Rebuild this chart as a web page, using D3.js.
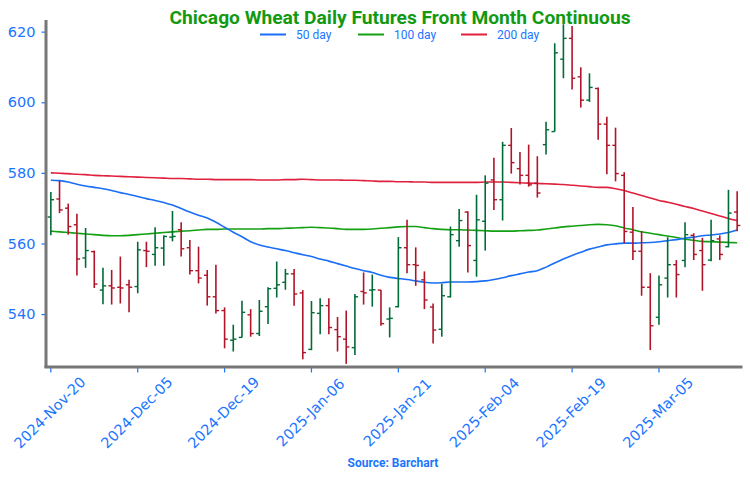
<!DOCTYPE html>
<html><head><meta charset="utf-8">
<script src="https://cdn.jsdelivr.net/npm/d3@7"></script>
<style>
body{margin:0;background:#fff;}
svg{display:block;}
</style></head>
<body>
<svg id="chart" width="750" height="479"></svg>
<script>
// ---- data (index = trading day, 0 = 2024-Nov-20) ----
const tickIndex = [0,10,20,30,40,50,60,70];
const tickLabels = ["2024-Nov-20","2024-Dec-05","2024-Dec-19","2025-Jan-06","2025-Jan-21","2025-Feb-04","2025-Feb-19","2025-Mar-05"];
const yTicks = [540,560,580,600,620];

const opens  = [567.5,572.6,570.0,565.3,555.9,557.7,546.8,548.0,547.6,548.3,
                547.8,558.0,556.9,558.7,561.8,563.9,558.8,552.3,551.0,544.9,
                541.0,532.6,533.4,539.8,534.5,542.1,547.3,549.0,551.4,546.0,
                530.0,540.2,542.4,535.6,532.9,530.5,546.4,546.8,546.8,538.6,
                542.1,558.8,554.0,549.7,542.0,535.7,544.9,560.8,568.9,555.2,
                566.3,578.0,572.4,587.8,581.2,579.3,577.1,588.0,591.7,612.2,
                618.1,607.2,600.6,603.9,593.8,587.8,579.3,563.2,557.8,547.6,
                539.1,550.2,554.0,555.2,562.3,558.0,555.3,561.3,559.1,568.9];
const highs  = [574.6,577.7,571.3,568.4,564.4,558.0,553.1,552.5,556.3,549.7,
                560.5,560.5,564.6,562.3,569.2,566.0,561.0,559.1,552.5,554.0,
                541.9,537.0,543.8,541.4,544.0,547.6,554.9,552.8,552.8,546.8,
                543.7,544.5,544.5,539.2,541.0,545.7,551.8,551.2,546.8,541.9,
                561.8,566.7,558.9,552.1,543.0,548.6,564.8,569.8,569.1,573.8,
                579.3,584.3,588.8,592.7,585.9,588.0,584.7,594.5,616.7,622.1,
                621.6,609.9,608.2,604.2,595.9,592.8,580.2,570.3,563.5,551.6,
                550.9,561.8,555.3,566.0,562.9,561.6,566.7,562.3,575.2,574.8];
const lows   = [562.3,568.6,562.5,550.9,553.1,547.4,542.8,542.7,543.0,540.5,
                545.9,553.3,553.7,553.7,560.6,556.3,551.2,548.7,542.4,540.2,
                530.3,529.4,533.4,533.6,533.8,537.2,544.7,546.9,542.4,527.2,
                529.8,534.3,534.3,529.4,525.9,528.4,542.7,542.1,536.7,533.4,
                541.9,551.6,548.0,541.4,531.7,533.6,544.7,559.1,551.8,550.6,
                558.0,569.5,566.5,579.8,576.7,576.1,573.0,585.2,591.7,606.8,
                603.6,598.5,600.1,589.4,579.6,577.6,560.1,555.3,545.2,529.8,
                537.0,544.7,544.7,553.3,555.3,546.6,555.0,555.3,558.9,563.5];
const closes = [572.4,569.5,564.8,555.6,558.0,548.5,548.0,547.4,547.4,547.6,
                558.2,557.8,558.8,562.0,562.0,558.5,552.3,550.2,544.9,541.0,
                532.9,532.9,540.5,534.5,540.8,547.2,548.3,551.4,545.7,529.1,
                540.4,542.4,536.2,533.6,530.7,544.9,546.0,546.9,537.3,538.8,
                558.8,554.0,553.8,544.0,535.5,545.2,562.5,566.5,559.4,566.7,
                577.1,572.4,587.8,582.9,579.3,576.6,574.3,592.2,614.0,618.1,
                606.8,600.6,604.2,593.8,587.8,579.8,563.4,557.8,547.6,536.7,
                548.3,554.0,551.2,562.5,556.9,554.0,560.8,556.9,568.6,565.1];

const ma50  = [577.9,577.8,577.4,576.8,576.3,575.9,575.5,575.0,574.4,573.9,
               573.3,572.7,572.2,571.6,570.9,569.9,568.9,568.0,567.2,566.0,
               564.6,563.2,561.9,560.5,559.6,559.0,558.5,558.0,557.4,556.8,
               556.3,555.6,555.0,554.3,553.6,552.9,552.3,551.8,551.0,550.4,
               550.1,549.8,549.4,549.0,548.8,548.9,549.1,549.1,549.1,549.2,
               549.4,549.8,550.3,550.9,551.4,551.9,552.3,553.3,554.5,555.6,
               556.6,557.5,558.4,559.0,559.6,559.9,560.1,560.1,560.2,560.3,
               560.5,560.8,561.1,561.5,561.8,562.2,562.4,562.7,563.1,563.8];
const ma100 = [563.5,563.3,563.1,562.9,562.7,562.5,562.3,562.2,562.2,562.3,
               562.5,562.7,562.9,563.1,563.3,563.5,563.6,563.8,564.0,564.0,
               564.1,564.1,564.1,564.1,564.1,564.2,564.2,564.3,564.4,564.5,
               564.6,564.5,564.4,564.2,564.0,564.0,564.0,564.1,564.3,564.5,
               564.7,564.8,564.8,564.5,564.2,564.0,563.9,563.9,563.8,563.7,
               563.6,563.5,563.5,563.5,563.6,563.7,563.8,564.1,564.4,564.7,
               564.9,565.1,565.3,565.4,565.3,565.0,564.4,563.9,563.3,562.9,
               562.5,562.1,561.7,561.2,560.9,560.6,560.5,560.4,560.3,560.2];
const ma200 = [580.0,579.9,579.8,579.6,579.5,579.3,579.2,579.1,579.0,578.9,
               578.8,578.7,578.6,578.5,578.4,578.4,578.3,578.2,578.2,578.1,
               578.1,578.1,578.1,578.1,578.0,578.0,578.0,578.1,578.1,578.2,
               578.1,578.0,578.0,578.0,577.9,577.9,577.8,577.7,577.6,577.6,
               577.5,577.5,577.4,577.4,577.3,577.3,577.3,577.3,577.3,577.3,
               577.4,577.4,577.4,577.3,577.2,577.1,577.0,576.9,576.8,576.7,
               576.5,576.3,576.1,575.9,575.9,575.5,575.0,574.3,573.6,572.9,
               572.2,571.7,571.1,570.5,569.9,569.2,568.5,567.8,567.1,566.5];

const maNames = ["50 day","100 day","200 day"];
const maColors = ["#1a6ef5","#13a013","#e0203c"];

// ---- drawing ----
const svg = d3.select("#chart");
const W = 750, H = 479;
const m = {left:46.5, right:8.5, top:20, bottom:113};

const n = opens.length;
const bars = d3.range(n).map(i => ({i, o:opens[i], h:highs[i], l:lows[i], c:closes[i]}));

const x = d3.scaleBand().domain(d3.range(n)).range([m.left, W - m.right]).padding(0);
const y = d3.scaleLinear().domain([525.3, 623.3]).range([H - m.bottom, m.top]);
const cx = i => x(i) + x.bandwidth()/2;

const blue = "#1a75ff";

// y axis
const yAxis = d3.axisLeft(y).tickValues(yTicks).tickSize(5).tickPadding(6).tickSizeOuter(0);
const gy = svg.append("g").attr("transform",`translate(${m.left},0)`).call(yAxis);
gy.select(".domain").remove();
gy.selectAll(".tick line").attr("stroke", blue).attr("stroke-width",1.2);
gy.selectAll(".tick text").attr("fill", blue).style("font-family","'DejaVu Sans', Verdana, sans-serif").style("font-size","14.5px");

// x axis
const xAxis = d3.axisBottom(x).tickValues(tickIndex).tickFormat(d=>tickLabels[tickIndex.indexOf(d)]).tickSize(5).tickSizeOuter(0);
const gx = svg.append("g").attr("transform",`translate(0,${H - m.bottom + 1.5})`).call(xAxis);
gx.select(".domain").remove();
gx.selectAll(".tick line").attr("stroke", blue).attr("stroke-width",1.2);
gx.selectAll(".tick text").attr("fill", blue)
  .style("font-family","'DejaVu Sans', Verdana, sans-serif").style("font-size","14.5px")
  .attr("text-anchor","middle").attr("dy","0.35em").attr("y",0)
  .attr("transform","translate(-1,45) rotate(-45)");

// axis frame lines
svg.append("line").attr("x1",m.left-0.5).attr("x2",m.left-0.5).attr("y1",m.top).attr("y2",H - m.bottom + 2)
  .attr("stroke","#777").attr("stroke-width",3);
svg.append("line").attr("x1",m.left-2).attr("x2",W - m.right+1).attr("y1",H - m.bottom + 1).attr("y2",H - m.bottom + 1)
  .attr("stroke","#777").attr("stroke-width",3);

// moving averages
const line = d3.line().x((d,i)=>cx(i)).y(d=>y(d)).curve(d3.curveMonotoneX);
[ma200, ma100, ma50].forEach((arr,k)=>{
  const col = maColors[2-k];
  svg.append("path").datum(arr).attr("d", line).attr("fill","none")
    .attr("stroke", col).attr("stroke-width",1.6);
});

// OHLC bars
const gb = svg.append("g");
const up = "#006b36", dn = "#b01428";
const tk = 3.2;
bars.forEach(b=>{
  const col = b.c >= b.o ? up : dn;
  const X = cx(b.i);
  gb.append("line").attr("x1",X).attr("x2",X).attr("y1",y(b.h)).attr("y2",y(b.l)).attr("stroke",col).attr("stroke-width",1.6);
  gb.append("line").attr("x1",X-tk).attr("x2",X).attr("y1",y(b.o)).attr("y2",y(b.o)).attr("stroke",col).attr("stroke-width",1.4);
  gb.append("line").attr("x1",X).attr("x2",X+tk).attr("y1",y(b.c)).attr("y2",y(b.c)).attr("stroke",col).attr("stroke-width",1.4);
});

// title
svg.append("text").attr("x",400).attr("y",24).attr("text-anchor","middle")
  .style("font-family","Roboto, sans-serif").style("font-weight","bold").style("font-size","19.2px")
  .attr("fill","#119a11").text("Chicago Wheat Daily Futures Front Month Continuous");

// legend
const legX = [260, 358, 461];
maNames.forEach((nm,k)=>{
  const g = svg.append("g").attr("transform",`translate(${legX[k]},34.5)`);
  g.append("line").attr("x1",0).attr("x2",26).attr("y1",0).attr("y2",0).attr("stroke",maColors[k]).attr("stroke-width",2);
  g.append("text").attr("x",36).attr("y",4.5).attr("fill",blue)
    .style("font-family","Roboto, sans-serif").style("font-size","12px").text(nm);
});

// source
svg.append("text").attr("x",393).attr("y",467).attr("text-anchor","middle")
  .style("font-family","Roboto, sans-serif").style("font-weight","bold").style("font-size","12px")
  .attr("fill",blue).text("Source: Barchart");
</script>
</body></html>
